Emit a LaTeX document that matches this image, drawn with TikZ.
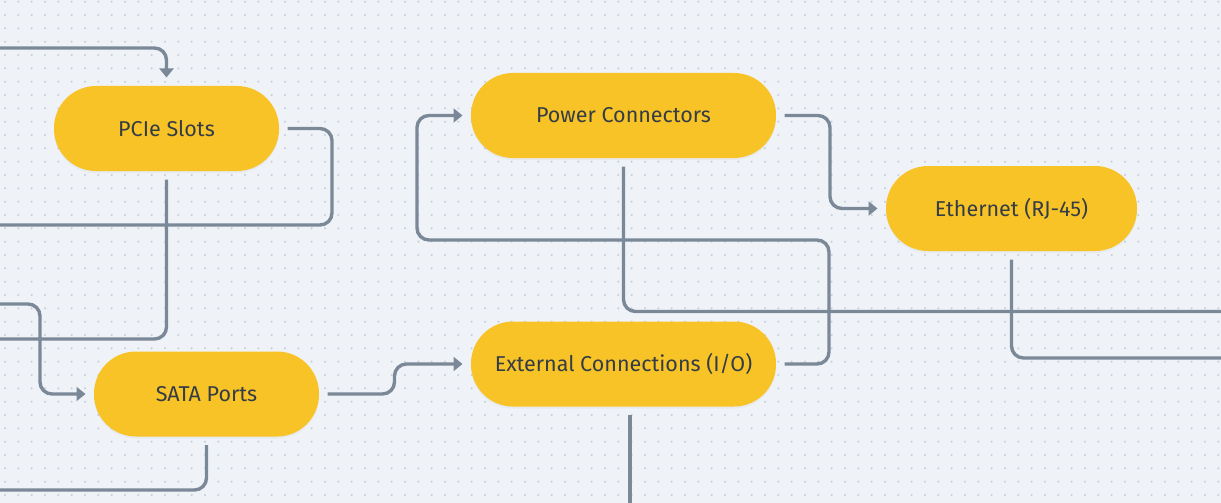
\documentclass[tikz,border=0pt]{standalone}
\usepackage{fontspec}
\setmainfont{Fira Sans}
\usepackage{xcolor}
\usepackage{tikz}
\usetikzlibrary{arrows.meta,shadows}

\definecolor{bgpaper}{HTML}{EFF3F7}
\definecolor{dotgray}{HTML}{C3CDD9}
\definecolor{partfill}{HTML}{F8C326}
\definecolor{wiregray}{HTML}{7A8898}
\definecolor{labelink}{HTML}{343D46}

\begin{document}
\begin{tikzpicture}[x=1pt,y=-1pt,
  part/.style={rectangle,rounded corners=42pt,fill=partfill,text=labelink,
    font=\fontsize{21.5}{25}\selectfont,minimum height=85pt,outer sep=8.5pt,
    drop shadow={shadow xshift=0pt,shadow yshift=-2pt,opacity=0.07}},
  wire/.style={wiregray,line width=3.4pt,rounded corners=12pt},
  tip/.style={-{Triangle[length=9pt,width=14pt]}}]
  \fill[bgpaper] (0,0) rectangle (1221,503);
  \clip (0,0) rectangle (1221,503);
  \foreach \i in {0,...,91} {
    \foreach \j in {0,...,37} {
      \fill[dotgray] (5+\i*13.333,1.67+\j*13.333) circle (1.1pt);}}

  \node[part,minimum width=225pt] (pcie) at (166.5,128.5) {PCIe Slots};
  \node[part,minimum width=225pt] (sata) at (206.5,394) {SATA Ports};
  \node[part,minimum width=305pt] (power) at (623.5,115.5) {Power Connectors};
  \node[part,minimum width=305pt] (ext) at (623.5,364) {External Connections (I/O)};
  \node[part,minimum width=251pt] (eth) at (1011.5,208.5) {Ethernet (RJ-45)};

  \coordinate (inPcie) at (0,48);
  \coordinate (inSata) at (0,304);
  \coordinate (outPcieR) at (0,225);
  \coordinate (outPcieS) at (0,339);
  \coordinate (outSata) at (0,490);
  \coordinate (outPower) at (1221,311.5);
  \coordinate (outEth) at (1221,358);
  \coordinate (outExt) at (630,510);

  \draw[wire,tip] (inPcie) -| (pcie.north);
  \draw[wire] (pcie.east) -| (332,225) -- (outPcieR);
  \draw[wire] (pcie.south) |- (outPcieS);
  \draw[wire,tip] (inSata) -| (40,394) -- (sata.west);
  \draw[wire,tip] (sata.east) -- ++(67,0) |- (ext.west);
  \draw[wire] (sata.south) |- (outSata);
  \draw[wire,tip] (ext.east) -| (829,240) -| (417,115.5) -- (power.west);
  \draw[wire] (power.south) |- (outPower);
  \draw[wire,tip] (power.east) -- ++(45.5,0) |- (eth.west);
  \draw[wire] (eth.south) |- (outEth);
  \draw[wire] ([xshift=6.5pt]ext.south) -- (outExt);
\end{tikzpicture}
\end{document}
